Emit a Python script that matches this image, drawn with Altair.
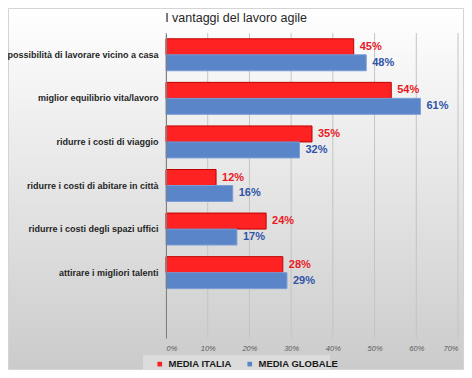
import altair as alt
import pandas as pd

categories = [
    "possibilità di lavorare vicino a casa",
    "miglior equilibrio vita/lavoro",
    "ridurre i costi di viaggio",
    "ridurre i costi di abitare in città",
    "ridurre i costi degli spazi uffici",
    "attirare i migliori talenti",
]
italia = [0.45, 0.54, 0.35, 0.12, 0.24, 0.28]
globale = [0.48, 0.61, 0.32, 0.16, 0.17, 0.29]
series = ["MEDIA ITALIA", "MEDIA GLOBALE"]
bar_colors = ["#ff2222", "#5b85c9"]
stroke_colors = ["#c00000", "#7c9ed6"]
text_colors = ["#e8191f", "#2f54a8"]
x_ticks = [0, 0.1, 0.2, 0.3, 0.4, 0.5, 0.6, 0.7]
title_text = "I vantaggi del lavoro agile"

rows = []
for c, a, b in zip(categories, italia, globale):
    rows.append({"cat": c, "series": series[0], "v": a})
    rows.append({"cat": c, "series": series[1], "v": b})
df = pd.DataFrame(rows)
ticks_df = pd.DataFrame({"v": x_ticks})

W, H = 292, 305
FONT = "Liberation Sans"

y_domain = categories + [""]
y_scale = alt.Scale(domain=y_domain, paddingInner=0.266, paddingOuter=0.133)
x_scale = alt.Scale(domain=[0, 0.7], nice=False, zero=True)

gradient = alt.LinearGradient(
    gradient="linear",
    stops=[alt.GradientStop(color="#ffffff", offset=0),
           alt.GradientStop(color="#cbcbcb", offset=1)],
    x1=0, x2=0, y1=0, y2=1,
)

one = alt.Data(values=[{"a": 1}])

bg = alt.Chart(one).mark_rect(
    fill=gradient, stroke="#d4d4d4", strokeWidth=1
).encode(
    x=alt.value(-157.5), x2=alt.value(W + 5.5),
    y=alt.value(-24.5), y2=alt.value(H + 31.5),
)

title = alt.Chart(one).mark_text(
    text=title_text, font=FONT, fontSize=12.5, color="#262626",
    align="center", baseline="middle"
).encode(x=alt.value(70), y=alt.value(-15.5))

legend_box = alt.Chart(one).mark_rect(
    fill="#dcdcdc"
).encode(
    x=alt.value(-23), x2=alt.value(164),
    y=alt.value(322), y2=alt.value(340),
)

grid = alt.Chart(ticks_df).mark_rule(color="#c4c4c4", strokeWidth=1).encode(
    x=alt.X("v:Q", scale=x_scale,
            axis=alt.Axis(values=x_ticks, format=".0%", grid=False, domain=False,
                          ticks=False, labelFont=FONT, labelFontSize=7.5,
                          labelFontStyle="italic", labelColor="#595959",
                          labelPadding=6, title=None, zindex=1)),
    y=alt.value(0), y2=alt.value(H),
)

bars = alt.Chart(df).mark_bar(strokeWidth=1).encode(
    x=alt.X("v:Q", scale=x_scale),
    y=alt.Y("cat:N", scale=y_scale,
            axis=alt.Axis(title=None, ticks=False, domain=True, domainColor="#7f7f7f",
                          labelFont=FONT, labelFontSize=9, labelFontWeight="bold",
                          labelColor="#262626", labelPadding=8, labelLimit=220,
                          zindex=1)),
    yOffset=alt.YOffset("series:N", sort=series, scale=alt.Scale(paddingInner=0, paddingOuter=0)),
    color=alt.Color("series:N", scale=alt.Scale(domain=series, range=bar_colors),
                    legend=alt.Legend(title=None, orient="none", direction="horizontal",
                                      legendX=-11, legendY=326, symbolType="square",
                                      symbolSize=22, symbolStrokeWidth=0,
                                      labelFont=FONT, labelFontSize=9.5,
                                      labelFontWeight="bold", labelColor="#1a1a1a",
                                      labelOffset=4, columnPadding=13, padding=0)),
    stroke=alt.Stroke("series:N", scale=alt.Scale(domain=series, range=stroke_colors),
                      legend=None),
)

labels = alt.Chart(df).mark_text(
    align="left", baseline="middle", dx=6, font=FONT, fontSize=11, fontWeight="bold"
).encode(
    x=alt.X("v:Q", scale=x_scale),
    y=alt.Y("cat:N", scale=y_scale),
    yOffset=alt.YOffset("series:N", sort=series, scale=alt.Scale(paddingInner=0, paddingOuter=0)),
    text=alt.Text("v:Q", format=".0%"),
    color=alt.Color("series:N", scale=alt.Scale(domain=series, range=text_colors), legend=None),
)

chart = alt.layer(bg, title, legend_box, grid, bars, labels).resolve_scale(
    color="independent"
).properties(
    width=W, height=H,
    autosize=alt.AutoSizeParams(type="none"),
    padding={"left": 158, "top": 25, "right": 6, "bottom": 32},
).configure_view(stroke=None)

chart.save("out.html", embed_options={"renderer": "svg", "actions": False})
